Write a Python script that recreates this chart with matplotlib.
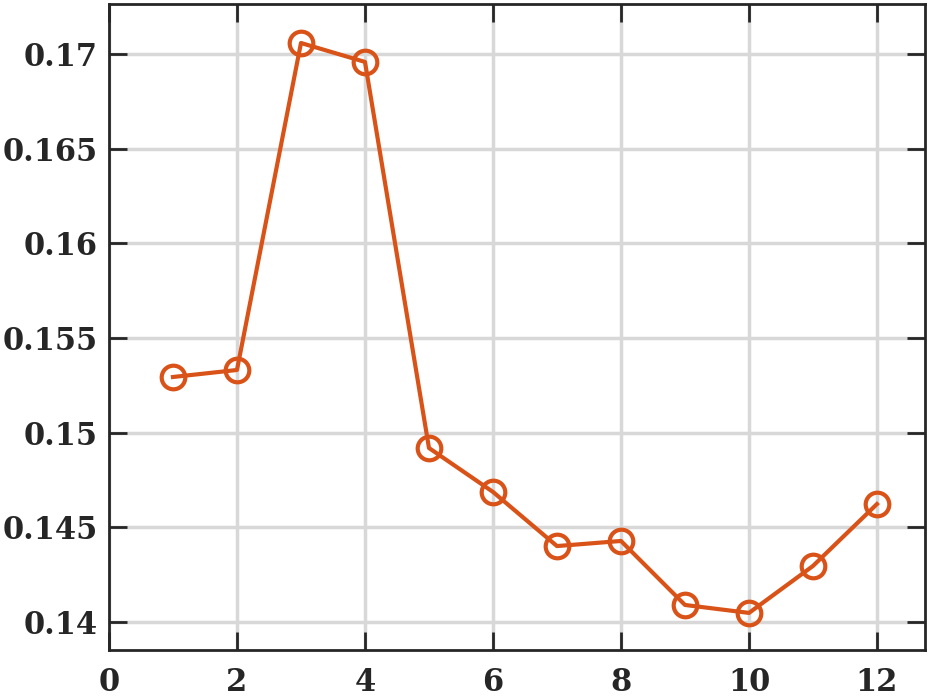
import numpy as np
import matplotlib.pyplot as plt

# dados
x = np.arange(1, 13)
y = [0.15294, 0.15331, 0.17058, 0.16958, 0.14919, 0.14687,
     0.14401, 0.14428, 0.14090, 0.14048, 0.14296, 0.14623]
xticks = [0, 2, 4, 6, 8, 10, 12]
yticks = [0.14, 0.145, 0.15, 0.155, 0.16, 0.165, 0.17]
ylabels = ['0.14', '0.145', '0.15', '0.155', '0.16', '0.165', '0.17']

cor = '#D95319'
plt.rcParams['font.family'] = 'DejaVu Serif'
plt.rcParams['font.weight'] = 'bold'

fig = plt.figure(figsize=(9.33, 7), dpi=100)
ax = fig.add_axes([0.1168, 0.0714, 0.8746, 0.9229])

ax.plot(x, y, '-o', color=cor, lw=3, ms=17, mfc='none', mew=3, zorder=3)

ax.set_xlim(0, 12.75)
ax.set_ylim(0.13852, 0.17264)
ax.set_xticks(xticks)
ax.set_yticks(yticks)
ax.set_yticklabels(ylabels)
ax.grid(True, color='#d8d8d8', lw=2.5)
ax.set_axisbelow(True)

ax.tick_params(direction='in', length=13, width=2, top=True, right=True,
               labelsize=22, colors='#262626')
ax.tick_params(axis='y', pad=8)
ax.tick_params(axis='x', pad=12)
for s in ax.spines.values():
    s.set_linewidth(2)
    s.set_color('#262626')

fig.savefig('out.png', dpi=100)
